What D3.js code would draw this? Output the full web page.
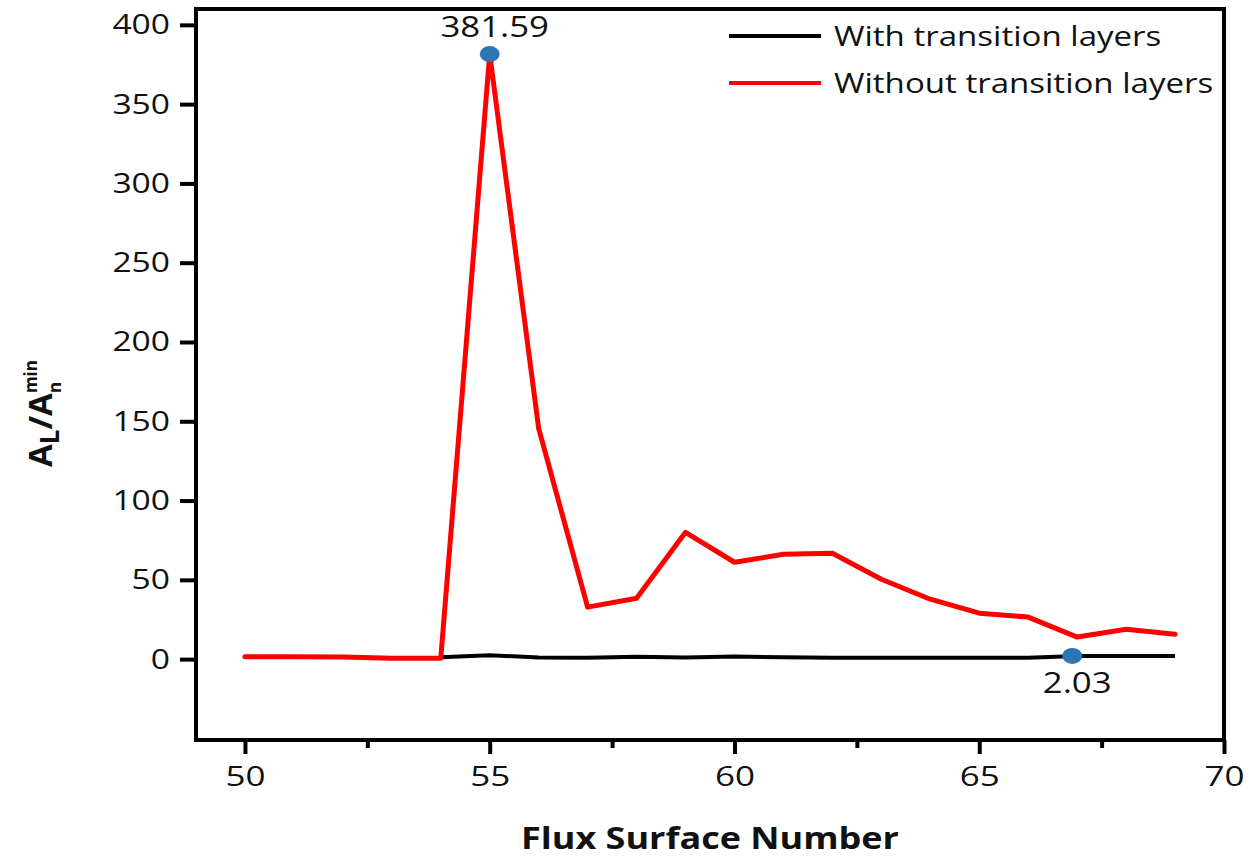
<!doctype html>
<html lang="en">
  <head>
    <meta charset="UTF-8" />
    <title>Flux surface chart</title>
    <script src="https://cdn.jsdelivr.net/npm/d3@7"></script>
    <style>
      body { margin: 0; background: #fff; }
      text { font-family: "Open Sans", "Noto Sans", sans-serif; fill: #111; }
    </style>
  </head>
  <body>
    <div id="graph-wrapper"></div>
    <script>
      // surface numbers on the x axis
      const surfaces = d3.range(50, 70);
      // with transition layers (black) - starts at surface 54
      const withSurfaces = d3.range(54, 70);
      const withLayers = [1.2, 2.5, 1.0, 0.9, 1.5, 1.0, 1.7, 1.2, 0.9, 0.9, 0.8, 0.8, 0.8, 2.03, 2.0, 2.0];
      // without transition layers (red)
      const withoutLayers = [1.5, 1.5, 1.3, 0.5, 0.5, 381.59, 145.5, 32.8, 38.4, 80.0, 61.1, 66.1, 66.8, 50.4, 37.8, 29.0, 26.5, 13.9, 18.9, 15.7];
      const xTicks = [50, 55, 60, 65, 70];
      const xMinorTicks = [52.5, 57.5, 62.5, 67.5];
      const yTicks = [0, 50, 100, 150, 200, 250, 300, 350, 400];
      const marks = [
        { x: 55, y: 381.59, label: "381.59", pos: "above" },
        { x: 66.9, y: 2.03, label: "2.03", pos: "below" }
      ];
      const legendItems = [
        { name: "With transition layers", color: "#000" },
        { name: "Without transition layers", color: "#ff0000" }
      ];

      const width = 1250;
      const height = 860;
      const marginLeft = 196;
      const marginRight = 26;
      const marginTop = 9;
      const marginBottom = 120;

      // the source picture is a bit wider than tall, so texts are stretched sideways
      function stretch(sel, f) {
        sel.each(function () {
          const len = this.getComputedTextLength();
          d3.select(this).attr("textLength", len * f).attr("lengthAdjust", "spacingAndGlyphs");
        });
      }

      const x = d3.scaleLinear().domain([49, 70]).range([marginLeft, width - marginRight]);
      const y = d3.scaleLinear().domain([-51, 410]).range([height - marginBottom, marginTop]);

      const svg = d3.select("#graph-wrapper").append("svg")
        .attr("width", width)
        .attr("height", height);

      svg.append("rect").attr("width", width).attr("height", height).attr("fill", "#fff");

      // y axis
      const yAxis = svg.append("g")
        .attr("transform", `translate(${marginLeft},0)`)
        .call(d3.axisLeft(y).tickValues(yTicks).tickSize(16).tickPadding(10));
      yAxis.select(".domain").remove();
      yAxis.selectAll(".tick line").attr("stroke", "#000").attr("stroke-width", 4);
      yAxis.selectAll(".tick text").attr("font-size", 28).attr("font-family", '"Open Sans", sans-serif').attr("fill", "#111")
        .call(stretch, 1.2);

      // x axis
      const xAxis = svg.append("g")
        .attr("transform", `translate(0,${height - marginBottom})`)
        .call(d3.axisBottom(x).tickValues(xTicks).tickSize(14).tickPadding(12));
      xAxis.select(".domain").remove();
      xAxis.selectAll(".tick line").attr("stroke", "#000").attr("stroke-width", 4);
      xAxis.selectAll(".tick text").attr("font-size", 28).attr("font-family", '"Open Sans", sans-serif').attr("fill", "#111")
        .call(stretch, 1.25);

      svg.append("g")
        .attr("transform", `translate(0,${height - marginBottom})`)
        .call(d3.axisBottom(x).tickValues(xMinorTicks).tickSize(8).tickFormat(""))
        .call(g => g.select(".domain").remove())
        .selectAll(".tick line").attr("stroke", "#000").attr("stroke-width", 4);

      // frame
      svg.append("rect")
        .attr("x", marginLeft)
        .attr("y", marginTop)
        .attr("width", width - marginRight - marginLeft)
        .attr("height", height - marginBottom - marginTop)
        .attr("fill", "none")
        .attr("stroke", "#000")
        .attr("stroke-width", 4);

      // lines
      const line = d3.line().x(d => x(d[0])).y(d => y(d[1]));
      svg.append("path")
        .datum(withSurfaces.map((s, i) => [s, withLayers[i]]))
        .attr("d", line)
        .attr("fill", "none")
        .attr("stroke", "#000")
        .attr("stroke-width", 4)
        .attr("stroke-linejoin", "round");
      svg.append("path")
        .datum(surfaces.map((s, i) => [s, withoutLayers[i]]))
        .attr("d", line)
        .attr("fill", "none")
        .attr("stroke", "#ff0000")
        .attr("stroke-width", 5)
        .attr("stroke-linejoin", "round")
        .attr("stroke-linecap", "round");

      // highlighted points
      svg.selectAll("ellipse.mark")
        .data(marks)
        .enter()
        .append("ellipse")
        .attr("class", "mark")
        .attr("cx", d => x(d.x))
        .attr("cy", d => y(d.y))
        .attr("rx", 10)
        .attr("ry", 8)
        .attr("fill", "#2e75b6");
      svg.selectAll("text.mark")
        .data(marks)
        .enter()
        .append("text")
        .attr("class", "mark")
        .attr("x", d => x(d.x) + 5)
        .attr("y", d => d.pos === "above" ? y(d.y) - 17 : y(d.y) + 37)
        .attr("text-anchor", "middle")
        .attr("font-size", 29)
        .text(d => d.label)
        .call(stretch, 1.2);

      // legend
      const legend = svg.append("g").attr("id", "legend");
      legendItems.forEach((item, i) => {
        legend.append("line")
          .attr("x1", 729).attr("x2", 821)
          .attr("y1", 36 + i * 47).attr("y2", 36 + i * 47)
          .attr("stroke", item.color)
          .attr("stroke-width", 4);
        legend.append("text")
          .attr("x", 834)
          .attr("y", 46 + i * 47)
          .attr("font-size", 28)
          .text(item.name)
          .call(stretch, 1.18);
      });

      // axis titles
      svg.append("text")
        .attr("x", 710)
        .attr("y", 849)
        .attr("text-anchor", "middle")
        .attr("font-size", 30)
        .attr("font-weight", "bold")
        .text("Flux Surface Number")
        .call(stretch, 1.2);

      const yTitle = svg.append("text")
        .attr("transform", "translate(52,467) rotate(-90)")
        .attr("font-size", 33)
        .attr("font-weight", "bold");
      yTitle.append("tspan").text("A");
      yTitle.append("tspan").attr("font-size", 26).attr("dy", 7).text("L");
      yTitle.append("tspan").attr("dy", -7).text("/A");
      const nSub = yTitle.append("tspan").attr("font-size", 17).attr("dy", 9).text("n");
      const nLen = nSub.node().getComputedTextLength();
      yTitle.append("tspan").attr("font-size", 17).attr("dx", -nLen).attr("dy", -24).text("min");
    </script>
  </body>
</html>
